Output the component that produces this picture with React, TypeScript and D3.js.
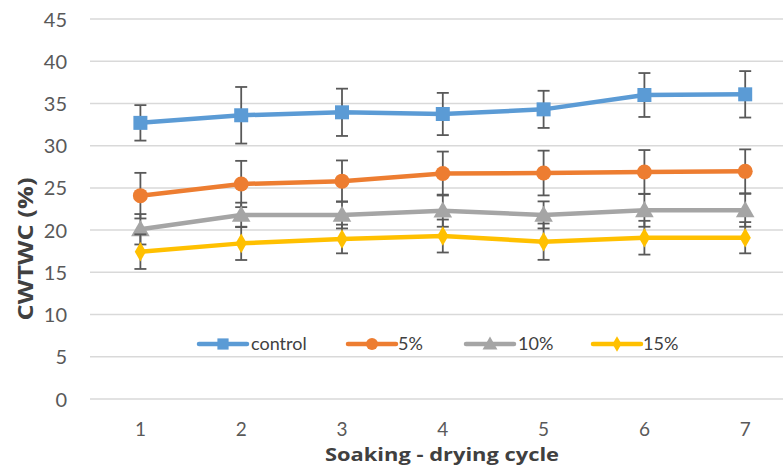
import React from "react";
import * as d3 from "d3";

const cycles = [1, 2, 3, 4, 5, 6, 7];
const seriesNames = ["control", "5%", "10%", "15%"];
const controlVals = [32.7, 33.6, 33.95, 33.75, 34.3, 36.0, 36.08];
const controlErr = [2.1, 3.35, 2.8, 2.5, 2.2, 2.6, 2.75];
const p5Vals = [24.08, 25.46, 25.8, 26.7, 26.76, 26.88, 26.96];
const p5Err = [2.7, 2.74, 2.45, 2.6, 2.65, 2.6, 2.6];
const p10Vals = [20.1, 21.8, 21.8, 22.3, 21.8, 22.35, 22.35];
const p10Err = [1.8, 1.45, 1.6, 1.9, 1.6, 1.95, 1.95];
const p15Vals = [17.45, 18.43, 18.95, 19.3, 18.63, 19.1, 19.1];
const p15Err = [2.05, 1.97, 1.7, 1.95, 2.15, 2.0, 1.85];
const yTicks = [0, 5, 10, 15, 20, 25, 30, 35, 40, 45];
const colors = ["#5B9BD5", "#ED7D31", "#A5A5A5", "#FFC000"];
const markerKinds = ["square", "circle", "triangle", "diamond"];

const W = 783;
const H = 468;
const FONT = "Lato, 'Open Sans', sans-serif";
const TITLE_FONT = "'Open Sans', Lato, sans-serif";

function Marker({ kind, x, y, color, s = 1 }: { kind: string; x: number; y: number; color: string; s?: number }) {
  if (kind === "square") {
    const a = 14 * s;
    return <rect x={x - a / 2} y={y - a / 2} width={a} height={a} fill={color} />;
  }
  if (kind === "circle") {
    return <circle cx={x} cy={y} r={7.5 * s} fill={color} />;
  }
  if (kind === "triangle") {
    const sym = d3.symbol().type(d3.symbolTriangle).size(150 * s * s)();
    return <path d={sym as string} transform={`translate(${x},${y + 1.5 * s})`} fill={color} />;
  }
  const sym = d3.symbol().type(d3.symbolDiamond).size(110 * s * s)();
  return <path d={sym as string} transform={`translate(${x},${y})`} fill={color} />;
}

export default function App() {
  const values = [controlVals, p5Vals, p10Vals, p15Vals];
  const errs = [controlErr, p5Err, p10Err, p15Err];
  const left = 90;
  const step = 100.8;
  const x = d3.scalePoint<number>().domain(cycles).range([left + step / 2, left + step * 6.5]);
  const y = d3.scaleLinear().domain([0, 45]).range([399, 19]);
  const line = d3
    .line<number>()
    .x((_, i) => x(cycles[i]) as number)
    .y((d) => y(d));

  const legendItems = [
    { x1: 199, x2: 247, tx: 251 },
    { x1: 348, x2: 396, tx: 398 },
    { x1: 466, x2: 514, tx: 518 },
    { x1: 593, x2: 641, tx: 643 },
  ];
  const legendY = 344;

  return (
    <svg width={W} height={H} style={{ position: "absolute", left: 0, top: 0, background: "#fff" }}>
      {yTicks.map((t) => (
        <g key={t}>
          <line x1={left} x2={left + step * 7} y1={y(t)} y2={y(t)} stroke="#D9D9D9" strokeWidth={1.5} />
          <text x={67} y={y(t) + 7.5} textAnchor="end" fontSize={20} fill="#595959" fontFamily={FONT}>
            {t}
          </text>
        </g>
      ))}
      {cycles.map((c) => (
        <text key={c} x={x(c)} y={436} textAnchor="middle" fontSize={19} fill="#595959" fontFamily={FONT}>
          {c}
        </text>
      ))}
      <text
        x={442}
        y={461}
        textAnchor="middle"
        fontSize={18}
        fontWeight="bold"
        fill="#404040"
        fontFamily={TITLE_FONT}
        textLength={234}
        lengthAdjust="spacingAndGlyphs"
      >
        Soaking - drying cycle
      </text>
      <text
        transform={`translate(33,249) rotate(-90)`}
        textAnchor="middle"
        fontSize={22}
        fontWeight="bold"
        fill="#404040"
        fontFamily={TITLE_FONT}
        textLength={143}
        lengthAdjust="spacingAndGlyphs"
      >
        CWTWC (%)
      </text>

      {values.map((vals, si) => (
        <g key={seriesNames[si]}>
          <path d={line(vals) as string} fill="none" stroke={colors[si]} strokeWidth={4.5} strokeLinejoin="round" strokeLinecap="round" />
          {vals.map((v, i) => {
            const cx = x(cycles[i]) as number;
            const e = errs[si][i];
            return (
              <g key={i} stroke="#595959" strokeWidth={1.8}>
                <line x1={cx} x2={cx} y1={y(v + e)} y2={y(v - e)} />
                <line x1={cx - 6} x2={cx + 6} y1={y(v + e)} y2={y(v + e)} />
                <line x1={cx - 6} x2={cx + 6} y1={y(v - e)} y2={y(v - e)} />
              </g>
            );
          })}
          {vals.map((v, i) => (
            <Marker key={i} kind={markerKinds[si]} x={x(cycles[i]) as number} y={y(v)} color={colors[si]} />
          ))}
        </g>
      ))}

      {legendItems.map((it, si) => (
        <g key={si}>
          <line x1={it.x1} x2={it.x2} y1={legendY} y2={legendY} stroke={colors[si]} strokeWidth={4.5} strokeLinecap="round" />
          <Marker kind={markerKinds[si]} x={(it.x1 + it.x2) / 2} y={legendY} color={colors[si]} s={0.8} />
          <text x={it.tx} y={legendY + 6} fontSize={18} fill="#404040" fontFamily={FONT}>
            {seriesNames[si]}
          </text>
        </g>
      ))}
    </svg>
  );
}
